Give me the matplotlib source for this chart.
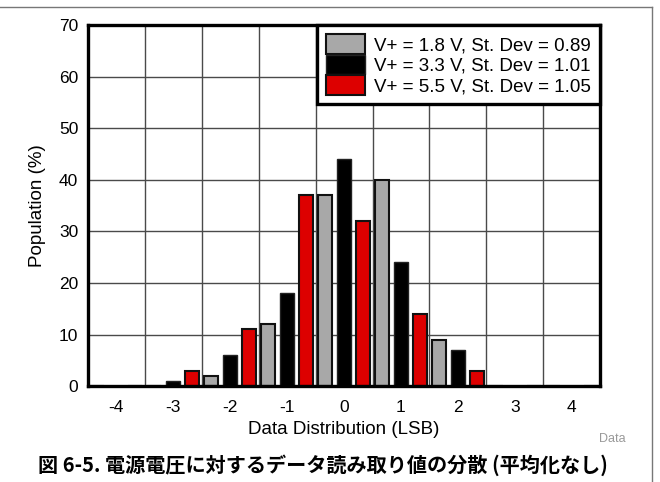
import matplotlib.pyplot as plt
import numpy as np
from matplotlib.lines import Line2D

plt.rcParams['font.family'] = ['Liberation Sans', 'DejaVu Sans']

# data distribution bins (LSB)
bins = [-4, -3, -2, -1, 0, 1, 2, 3, 4]
pop_18 = [0, 0, 2, 12, 37, 40, 9, 0, 0]   # V+ = 1.8 V
pop_33 = [0, 1, 6, 18, 44, 24, 7, 0, 0]   # V+ = 3.3 V
pop_55 = [0, 3, 11, 37, 32, 14, 3, 0, 0]  # V+ = 5.5 V
labels = ["V+ = 1.8 V, St. Dev = 0.89",
          "V+ = 3.3 V, St. Dev = 1.01",
          "V+ = 5.5 V, St. Dev = 1.05"]

fig = plt.figure(figsize=(6.6, 4.82), dpi=100)
ax = fig.add_axes([0.1333, 0.199, 0.776, 0.749])

x = np.array(bins, dtype=float)
w = 0.245
ax.bar(x - 1/3, pop_18, w, color="#a8a8a8", edgecolor="#111111", linewidth=1.5, label=labels[0], zorder=3)
ax.bar(x, pop_33, w, color="black", edgecolor="#222222", linewidth=1.0, label=labels[1], zorder=3)
ax.bar(x + 1/3, pop_55, w, color="#dd0000", edgecolor="#111111", linewidth=1.5, label=labels[2], zorder=3)

ax.set_xlim(-4.5, 4.5)
ax.set_ylim(0, 70)
ax.set_xticks(bins)
ax.set_xticklabels([str(b) for b in bins])
ax.set_yticks(range(0, 71, 10))
ax.tick_params(which="both", length=0, labelsize=12.5)
ax.tick_params(axis="x", pad=10)
ax.tick_params(axis="y", pad=7)
for yv in range(10, 70, 10):
    ax.axhline(yv, color="#4a4a4a", linewidth=1.0, zorder=1)
for xv in np.arange(-3.5, 4.0, 1.0):
    ax.axvline(xv, color="#4a4a4a", linewidth=1.0, zorder=1)
for s in ax.spines.values():
    s.set_linewidth(2.4)
    s.set_zorder(4)

ax.set_xlabel("Data Distribution (LSB)", fontsize=13.5, labelpad=4)
ax.set_ylabel("Population (%)", fontsize=13.5, labelpad=9)

leg = ax.legend(loc="upper right", fontsize=13.5, handlelength=2.1, handleheight=1.25,
                labelspacing=0, handletextpad=0.45, borderpad=0.5, borderaxespad=0,
                fancybox=False, framealpha=1, edgecolor="black")
leg.get_frame().set_linewidth(2.4)
leg.set_zorder(5)

fig.text(0.927, 0.083, "Data", color="#999999", fontsize=9, ha="center")
fig.text(0.49, 0.022, "図 6-5. 電源電圧に対するデータ読み取り値の分散 (平均化なし)",
         ha="center", fontsize=14.5, fontweight="bold",
         family=['Noto Sans CJK JP', 'DejaVu Sans'])

# page frame lines
fig.add_artist(Line2D([0, 0.988], [0.986, 0.986], color="#777777", linewidth=1.0, transform=fig.transFigure))
fig.add_artist(Line2D([0.988, 0.988], [0, 0.986], color="#777777", linewidth=1.0, transform=fig.transFigure))

plt.savefig("out.png", dpi=100)
